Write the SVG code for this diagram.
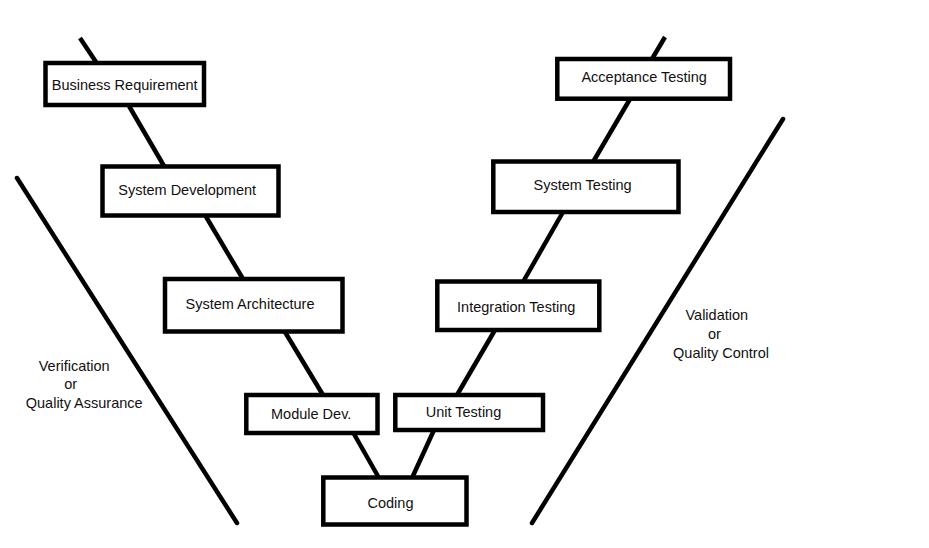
<svg xmlns="http://www.w3.org/2000/svg" width="929" height="548" viewBox="0 0 929 548">
<style>
.box{fill:#fff;stroke:#000;stroke-width:4.5}
.ln{stroke:#000;stroke-width:4.5;fill:none}
.dg{stroke:#000;stroke-width:4.5;fill:none;stroke-linecap:round}
text{font-family:"Liberation Sans",Arial,sans-serif;font-size:14.5px;fill:#111;text-anchor:middle}
</style>
<rect width="929" height="548" fill="#fff"/>
<g id="connectors">
<line class="ln" x1="80" y1="38" x2="96" y2="62"/>
<line class="ln" x1="129" y1="106" x2="164" y2="166"/>
<line class="ln" x1="205" y1="215" x2="243" y2="279"/>
<line class="ln" x1="285" y1="332" x2="323" y2="395"/>
<line class="ln" x1="354" y1="434" x2="379" y2="478"/>
<line class="ln" x1="434" y1="430" x2="412" y2="478"/>
<line class="ln" x1="495" y1="330" x2="457" y2="395"/>
<line class="ln" x1="563" y1="212" x2="523" y2="282"/>
<line class="ln" x1="630" y1="99" x2="593" y2="162"/>
<line class="ln" x1="665" y1="37" x2="652" y2="59"/>
<line class="dg" x1="17" y1="178" x2="237" y2="523"/>
<line class="dg" x1="783" y1="119" x2="532" y2="523"/>
</g>
<g id="business-requirement">
<rect class="box" x="45.5" y="63" width="158.5" height="42"/>
<text x="124.7" y="90">Business Requirement</text>
</g>
<g id="system-development">
<rect class="box" x="102.5" y="166.5" width="176" height="49"/>
<text x="187.2" y="195">System Development</text>
</g>
<g id="system-architecture">
<rect class="box" x="165" y="279" width="177.5" height="52.5"/>
<text x="250" y="309.3">System Architecture</text>
</g>
<g id="module-dev">
<rect class="box" x="246.3" y="395" width="131.2" height="38"/>
<text x="311.2" y="419">Module Dev.</text>
</g>
<g id="coding">
<rect class="box" x="323.3" y="477.5" width="143.2" height="47"/>
<text x="390.5" y="508.3">Coding</text>
</g>
<g id="unit-testing">
<rect class="box" x="395.3" y="395" width="147.7" height="35"/>
<text x="463.5" y="416.7">Unit Testing</text>
</g>
<g id="integration-testing">
<rect class="box" x="437.3" y="281.5" width="162" height="48.5"/>
<text x="516.2" y="311.7">Integration Testing</text>
</g>
<g id="system-testing">
<rect class="box" x="493.3" y="161.5" width="185.2" height="50.5"/>
<text x="582.5" y="190">System Testing</text>
</g>
<g id="acceptance-testing">
<rect class="box" x="557.3" y="59" width="172.7" height="39.7"/>
<text x="644.2" y="82.3">Acceptance Testing</text>
</g>
<g id="verification-label">
<text x="74.2" y="370.7">Verification</text>
<text x="70.7" y="389.3">or</text>
<text x="84.2" y="408.3">Quality Assurance</text>
</g>
<g id="validation-label">
<text x="716.8" y="320">Validation</text>
<text x="714.5" y="339">or</text>
<text x="721" y="357.7">Quality Control</text>
</g>
</svg>
